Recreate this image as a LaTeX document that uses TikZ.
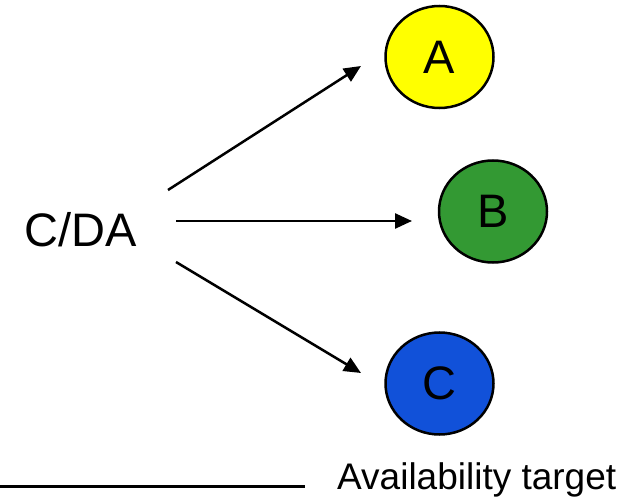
\documentclass[tikz,border=0pt]{standalone}
\usepackage{fontspec}
\setmainfont{Liberation Sans}
\usetikzlibrary{shapes.geometric,arrows.meta}
\definecolor{tyellow}{RGB}{255,255,0}
\definecolor{tgreen}{RGB}{51,153,51}
\definecolor{tblue}{RGB}{17,81,217}
\begin{document}
\begin{tikzpicture}[x=1pt,y=-1pt,
  target/.style={ellipse,draw=black,line width=2.5pt,minimum width=108pt,
    minimum height=102pt,inner sep=0pt,font=\fontsize{47}{50}\selectfont},
  link/.style={line width=2.5pt,-{Triangle[length=17pt,width=15pt]}},
  label/.style={inner sep=0pt}]
  \useasboundingbox (0,0) rectangle (627,500);
  % targets
  \node[target,fill=tyellow] (A) at (439.5,57) {A};
  \node[target,fill=tgreen]  (B) at (493,211.5) {B};
  \node[target,fill=tblue]   (C) at (439.5,383.5) {C};
  % source label
  \node[label,font=\fontsize{47}{50}\selectfont] (src) at (81,230) {C/DA};
  % connector end points
  \coordinate (a1s) at (168,190);
  \coordinate (a1e) at (361,66);
  \coordinate (a2s) at (176,221);
  \coordinate (a2e) at (412,221);
  \coordinate (a3s) at (176,262);
  \coordinate (a3e) at (361,373);
  \draw[link] (a1s) -- (a1e);
  \draw[link] (a2s) -- (a2e);
  \draw[link] (a3s) -- (a3e);
  % legend
  \coordinate (l0) at (0,486);
  \coordinate (l1) at (305,486);
  \draw[line width=3pt] (l0) -- (l1);
  \node[label,anchor=base west,font=\fontsize{37}{40}\selectfont] (leg) at (337,489) {Availability target};
\end{tikzpicture}
\end{document}
